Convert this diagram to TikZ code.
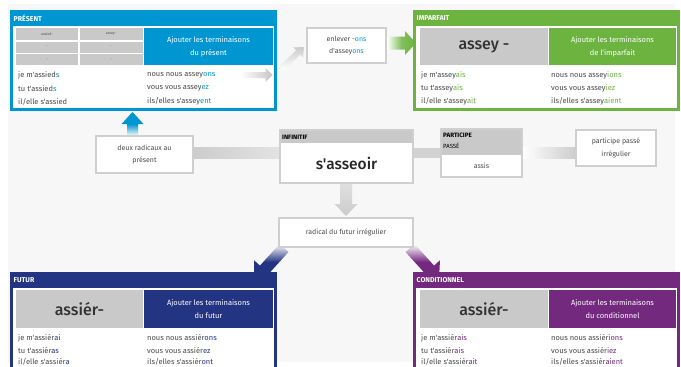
\documentclass[tikz,border=0pt]{standalone}
\usepackage{fontspec}
\setmainfont{Fira Sans}[Ligatures=TeXOff]
\newfontfamily\stemfont{Fira Sans Medium}[Ligatures=TeXOff]
\usetikzlibrary{calc}
\definecolor{cpres}{HTML}{0096D2}
\definecolor{cimp}{HTML}{6CB33F}
\definecolor{cfut}{HTML}{233582}
\definecolor{ccond}{HTML}{73297E}
\definecolor{ccell}{HTML}{C9C9C9}
\definecolor{ctxt}{HTML}{4A4A4A}
\definecolor{cbg}{HTML}{F7F7F7}
\definecolor{cedge}{HTML}{CFCFCF}
\tikzset{
  conj/.style={anchor=west, inner sep=0pt, font=\fontsize{7.5}{9}\selectfont, text=ctxt},
  hdr/.style={anchor=west, inner sep=0pt, font=\fontsize{7}{8}\selectfont\bfseries, text=white},
  hdrblack/.style={anchor=west, inner sep=0pt, font=\fontsize{6.3}{7}\selectfont\bfseries, text=black},
  addtxt/.style={align=center, text=white, font=\fontsize{7.5}{13}\selectfont, inner sep=0pt},
  stem/.style={font=\stemfont\fontsize{16}{18}\selectfont, text=black!80, inner sep=0pt},
  tiny/.style={font=\fontsize{3.5}{4}\selectfont, text=ctxt, inner sep=0pt},
  frame/.style={anchor=north west, inner sep=0pt, outer sep=0pt},
  wbox/.style={draw=cedge, line width=1.2pt, fill=white, align=center, inner sep=0pt,
    font=\fontsize{7}{12.5}\selectfont, text=ctxt},
}
\newcommand\fatarr[6]{%
  \coordinate (fa-b) at ($(#3)!#6!(#2)$);
  \shade[#1] ($(#2)!#4!90:(#3)$) -- ($(fa-b)!#4!90:(#3)$) -- ($(fa-b)!#5!90:(#3)$) -- (#3)
    -- ($(fa-b)!#5!-90:(#3)$) -- ($(fa-b)!#4!-90:(#3)$) -- ($(#2)!#4!-90:(#3)$) -- cycle;
}
\begin{document}
\begin{tikzpicture}[x=1pt, y=-1pt]
\useasboundingbox (0,0) rectangle (681,367);
\clip (0,0) rectangle (681,367);
\fill[white] (0,0) rectangle (681,367);
\fill[cbg] (8,4) rectangle (675,362);

% ---------- bars behind boxes ----------
\shade[left color=gray!40, right color=gray!22] (193,147.5) rectangle (280,158);
\fill[gray!35] (413,147.5) rectangle (441,158);
\shade[left color=white, right color=gray!40] (522,147.5) rectangle (576,158);

% ---------- arrows (behind boxes) ----------
\coordinate (pd1) at (282,68);  \coordinate (pd2) at (304,47);
\fatarr{top color=gray!40, bottom color=white}{pd1}{pd2}{3pt}{7pt}{8pt}
\coordinate (g1) at (387,43);  \coordinate (g2) at (416,43);
\fatarr{left color=white, right color=cimp, middle color=cimp!85}{g1}{g2}{6.5pt}{12pt}{11pt}
\coordinate (b1) at (132.5,136);  \coordinate (b2) at (132.5,112);
\fatarr{top color=cpres, bottom color=white, middle color=cpres}{b1}{b2}{5.5pt}{11pt}{12pt}
\coordinate (d1) at (346,183.5);  \coordinate (d2) at (346,216);
\fatarr{top color=gray!25, bottom color=gray!40}{d1}{d2}{6pt}{11.5pt}{12pt}
\coordinate (n1) at (284,248);  \coordinate (n2) at (255,280);
\fatarr{top color=white, bottom color=cfut, middle color=cfut}{n1}{n2}{6pt}{14pt}{14pt}
\coordinate (p1) at (410,248);  \coordinate (p2) at (439,280);
\fatarr{top color=white, bottom color=ccond, middle color=ccond}{p1}{p2}{6pt}{14pt}{14pt}

% ---------- PRESENT ----------
\node[frame, fill=cpres, minimum width=267pt, minimum height=101pt] (pres) at (10,10) {};
\fill[white] (13,26) rectangle (274,108);
\node[hdr] at (13.5,18.5) {PRÉSENT};
\foreach \yy/\hh in {28/40, 41.5/52.5, 54/65}{
  \fill[ccell] (16,\yy) rectangle (78,\hh);
  \fill[ccell] (80,\yy) rectangle (143,\hh);
}
\node[tiny] at (47,34) {assied-};
\node[tiny] at (111,34) {assey-};
\node[tiny] at (47,47) {-};
\node[tiny] at (111,47) {-};
\node[tiny] at (47,59.5) {-};
\node[tiny] at (111,59.5) {-};
\fill[cpres] (144,28) rectangle (273,65);
\node[addtxt] at (208.5,46.5) {Ajouter les terminaisons\\du présent};
\node[conj] at (18,75.5) {je m'assied\textcolor{cpres}{s}};
\node[conj] at (18,88.5) {tu t'assied\textcolor{cpres}{s}};
\node[conj] at (18,101.5) {il/elle s'assied};
\node[conj] at (147,75.5) {nous nous assey\textcolor{cpres}{ons}};
\node[conj] at (147,88.5) {vous vous assey\textcolor{cpres}{ez}};
\node[conj] at (147,101.5) {ils/elles s'assey\textcolor{cpres}{ent}};
\coordinate (pa1) at (240,75);  \coordinate (pa2) at (272.5,75);
\fatarr{left color=white, right color=gray!45}{pa1}{pa2}{3pt}{7pt}{7pt}

% ---------- IMPARFAIT ----------
\node[frame, fill=cimp, minimum width=267pt, minimum height=101pt] (imp) at (413,10) {};
\fill[white] (416,26) rectangle (677,108);
\node[hdr] at (416.5,18.5) {IMPARFAIT};
\fill[ccell] (420,28) rectangle (548,65);
\fill[cimp] (549,28) rectangle (676,65);
\node[stem] at (484,46.5) {assey -};
\node[addtxt] at (612.5,46.5) {Ajouter les terminaisons\\de l'imparfait};
\node[conj] at (421,75.5) {je m'assey\textcolor{cimp}{ais}};
\node[conj] at (421,88.5) {tu t'assey\textcolor{cimp}{ais}};
\node[conj] at (421,101.5) {il/elle s'assey\textcolor{cimp}{ait}};
\node[conj] at (551,75.5) {nous nous assey\textcolor{cimp}{ions}};
\node[conj] at (551,88.5) {vous vous assey\textcolor{cimp}{iez}};
\node[conj] at (551,101.5) {ils/elles s'assey\textcolor{cimp}{aient}};

% ---------- FUTUR ----------
\node[frame, fill=cfut, minimum width=267pt, minimum height=120pt] (fut) at (10,272) {};
\fill[white] (13,288) rectangle (274,400);
\node[hdr] at (13.5,280) {FUTUR};
\fill[ccell] (16,290) rectangle (143,328);
\fill[cfut] (144,290) rectangle (273,328);
\node[stem] at (79.5,309) {assiér-};
\node[addtxt] at (208.5,309) {Ajouter les terminaisons\\du futur};
\node[conj] at (18,338) {je m'assiér\textcolor{cfut}{ai}};
\node[conj] at (18,350.5) {tu t'assiér\textcolor{cfut}{as}};
\node[conj] at (18,362.3) {il/elle s'assiér\textcolor{cfut}{a}};
\node[conj] at (147,338) {nous nous assiér\textcolor{cfut}{ons}};
\node[conj] at (147,350.5) {vous vous assiér\textcolor{cfut}{ez}};
\node[conj] at (147,362.3) {ils/elles s'assiér\textcolor{cfut}{ont}};

% ---------- CONDITIONNEL ----------
\node[frame, fill=ccond, minimum width=267pt, minimum height=120pt] (cond) at (413,272) {};
\fill[white] (416,288) rectangle (677,400);
\node[hdr] at (416.5,280) {CONDITIONNEL};
\fill[ccell] (420,290) rectangle (548,328);
\fill[ccond] (549,290) rectangle (676,328);
\node[stem] at (484,309) {assiér-};
\node[addtxt] at (612.5,309) {Ajouter les terminaisons\\du conditionnel};
\node[conj] at (421,338) {je m'assiér\textcolor{ccond}{ais}};
\node[conj] at (421,350.5) {tu t'assiér\textcolor{ccond}{ais}};
\node[conj] at (421,362.3) {il/elle s'assiér\textcolor{ccond}{ait}};
\node[conj] at (551,338) {nous nous assiér\textcolor{ccond}{ions}};
\node[conj] at (551,350.5) {vous vous assiér\textcolor{ccond}{iez}};
\node[conj] at (551,362.3) {ils/elles s'assiér\textcolor{ccond}{aient}};

% ---------- small boxes ----------
\node[wbox, minimum width=79pt, minimum height=35pt] (enl) at (346.5,45.5)
  {enlever -\textcolor{cpres}{ons}\\d'assey\textcolor{cpres}{ons}};
\node[wbox, minimum width=97pt, minimum height=37pt] (deux) at (144.5,154.5)
  {deux radicaux au\\présent};
\node[wbox, minimum width=80pt, minimum height=36pt] (irr) at (616,148)
  {participe passé\\irrégulier};
\node[wbox, minimum width=134pt, minimum height=29pt] (rad) at (346,232.5)
  {radical du futur irrégulier};

% infinitif
\node[wbox, minimum width=133pt, minimum height=53pt] (inf) at (346.5,156.5) {};
\fill[ccell] (280.6,130.6) rectangle (412.4,143);
\node[hdrblack] at (282,137) {INFINITIF};
\node[font=\stemfont\fontsize{15.5}{18}\selectfont, text=black!85, inner sep=0pt] at (346.5,163.5) {s'asseoir};

% participe
\node[wbox, minimum width=81pt, minimum height=48pt] (part) at (481.5,153) {};
\fill[ccell] (441.6,129.6) rectangle (521.4,155);
\node[hdrblack] at (443,135.5) {PARTICIPE};
\node[anchor=west, inner sep=0pt, font=\fontsize{6}{7}\selectfont, text=black] at (443,146) {PASSÉ};
\node[inner sep=0pt, font=\fontsize{7}{9}\selectfont, text=ctxt] at (481.5,166) {assis};
\end{tikzpicture}
\end{document}
